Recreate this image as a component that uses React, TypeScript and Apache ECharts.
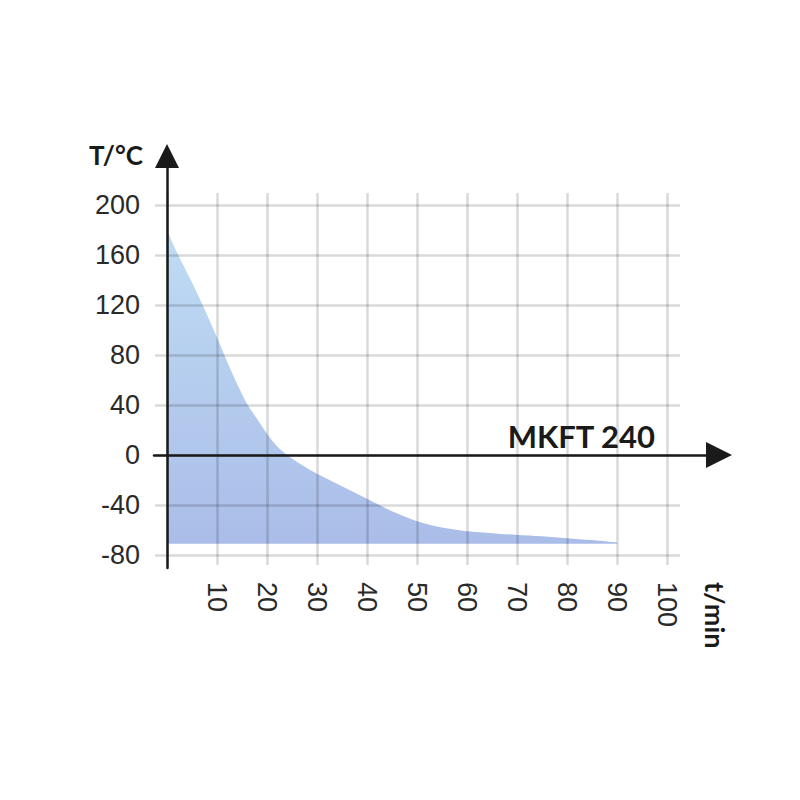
import React, { useEffect, useRef } from "react";
import * as echarts from "echarts";

// Data
const timeMin = [0, 2, 5, 7, 10, 12, 14, 16, 18, 20, 22, 24, 27, 30, 35, 40, 45, 50, 55, 60, 65, 70, 75, 80, 85, 90];
const tempC = [180, 162, 138, 121, 94, 75, 57, 41, 29, 17, 7, 0, -8, -15, -25, -35, -45, -53, -58, -61, -62.5, -64, -65, -66.5, -68, -70];
const areaBase = -71;
const xTicks = [0, 10, 20, 30, 40, 50, 60, 70, 80, 90, 100];
const yTicks = [-80, -40, 0, 40, 80, 120, 160, 200];
const modelLabel = "MKFT 240";
const yTitle = "T/°C";
const xTitle = "t/min";

// Layout (pixels)
const W = 800;
const H = 800;
const PLOT = { left: 167, right: 667, top: 205, bottom: 555 };
const AXIS_EXT = { left: 154, right: 719, top: 156, bottom: 568 };

export default function App() {
  const ref = useRef<HTMLDivElement>(null);
  useEffect(() => {
    if (!ref.current) return;
    const chart = echarts.init(ref.current, null, { renderer: "svg", width: W, height: H });
    const xMin = xTicks[0];
    const xMax = xTicks[xTicks.length - 1];
    const yMin = yTicks[0];
    const yMax = yTicks[yTicks.length - 1];
    const pxPerX = (PLOT.right - PLOT.left) / (xMax - xMin);
    const pxPerY = (PLOT.bottom - PLOT.top) / (yMax - yMin);
    const zeroY = PLOT.bottom - (0 - yMin) * pxPerY;
    const bXMin = xMin + (AXIS_EXT.left - PLOT.left) / pxPerX;
    const bXMax = xMin + (AXIS_EXT.right - PLOT.left) / pxPerX;
    const bYMax = (zeroY - AXIS_EXT.top) / pxPerY;
    const bYMin = (zeroY - AXIS_EXT.bottom) / pxPerY;

    const gridColor = "rgba(0,0,0,0.15)";
    const gridLine = { lineStyle: { color: gridColor, width: 2.5 } };
    const labelFont = { fontFamily: "Liberation Sans", fontSize: 27, color: "#2a2a2a" };
    const black = "#1a1a1a";

    chart.setOption({
      animation: false,
      grid: [
        { left: PLOT.left, right: W - PLOT.right, top: PLOT.top, bottom: H - PLOT.bottom },
        { left: AXIS_EXT.left, right: W - AXIS_EXT.right, top: AXIS_EXT.top, bottom: H - AXIS_EXT.bottom },
      ],
      xAxis: [
        {
          gridIndex: 0, type: "value", min: xMin, max: xMax, interval: 10, position: "bottom", z: 3,
          axisLine: { show: false, onZero: false },
          axisTick: { show: true, length: 10, ...gridLine },
          splitLine: { show: true, ...gridLine },
          axisLabel: { ...labelFont, rotate: -90, margin: 27, formatter: (v: number) => (v === 0 ? "" : String(v)) },
        },
        {
          gridIndex: 0, type: "value", min: xMin, max: xMax, interval: 10, position: "top", z: 3,
          axisLine: { show: false, onZero: false },
          axisTick: { show: true, length: 12, ...gridLine },
          splitLine: { show: false },
          axisLabel: { show: false },
        },
        {
          gridIndex: 1, type: "value", min: bXMin, max: bXMax, z: 5,
          axisLine: { show: true, onZero: true, symbol: ["none", "triangle"], symbolSize: [26, 26], lineStyle: { color: black, width: 2.5 } },
          axisTick: { show: false }, axisLabel: { show: false }, splitLine: { show: false },
        },
      ],
      yAxis: [
        {
          gridIndex: 0, type: "value", min: yMin, max: yMax, interval: 40, position: "left", z: 3,
          axisLine: { show: false, onZero: false },
          axisTick: { show: true, length: 12, ...gridLine },
          splitLine: { show: true, ...gridLine },
          axisLabel: { ...labelFont, margin: 27 },
        },
        {
          gridIndex: 0, type: "value", min: yMin, max: yMax, interval: 40, position: "right", z: 3,
          axisLine: { show: false, onZero: false },
          axisTick: { show: true, length: 13, ...gridLine },
          splitLine: { show: false },
          axisLabel: { show: false },
        },
        {
          gridIndex: 1, type: "value", min: bYMin, max: bYMax, z: 5,
          axisLine: { show: true, onZero: true, symbol: ["none", "triangle"], symbolSize: [24, 24], lineStyle: { color: black, width: 2.5 } },
          axisTick: { show: false }, axisLabel: { show: false }, splitLine: { show: false },
        },
      ],
      series: [
        {
          type: "line",
          xAxisIndex: 0,
          yAxisIndex: 0,
          z: 1,
          smooth: 0.3,
          showSymbol: false,
          lineStyle: { width: 0 },
          data: timeMin.map((t, i) => [t, tempC[i]]),
          areaStyle: {
            origin: areaBase,
            opacity: 1,
            color: new echarts.graphic.LinearGradient(0, 0, 0, 1, [
              { offset: 0, color: "#bfdcf4" },
              { offset: 1, color: "#aabde8" },
            ]),
          },
        },
      ],
      graphic: [
        {
          type: "text", x: 143, y: 168, z: 10,
          style: { text: yTitle, font: "bold 26px Lato", fill: black, textAlign: "right", textVerticalAlign: "bottom" },
        },
        {
          type: "text", x: 655, y: 451, z: 10,
          style: { text: modelLabel, font: "bold 31px Lato", fill: black, textAlign: "right", textVerticalAlign: "bottom" },
        },
        {
          type: "text", x: 715, y: 582, rotation: -Math.PI / 2, z: 10,
          style: { text: xTitle, font: "bold 27px Lato", fill: black, textAlign: "left", textVerticalAlign: "middle" },
        },
      ],
    });
    return () => chart.dispose();
  }, []);
  return <div ref={ref} style={{ position: "fixed", left: 0, top: 0, width: W, height: H, background: "#fff" }} />;
}
